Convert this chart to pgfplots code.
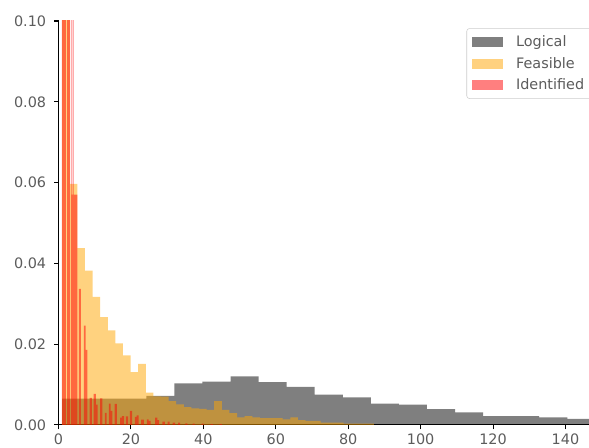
\documentclass[border=0pt]{standalone}
\usepackage{fontspec}
\setmainfont{DejaVu Sans}
\usepackage{pgfplots}
\usepackage{pgfplotstable}
\pgfplotsset{compat=1.18}
\definecolor{txt}{RGB}{92,92,92}
\definecolor{legframe}{RGB}{204,204,204}
\definecolor{mplorange}{RGB}{255,165,0}

\pgfplotstableread{
x y
1 0.0065
8.75 0.0065
16.5 0.0065
24.25 0.0072
32 0.0103
39.75 0.0107
47.5 0.0120
55.25 0.0106
63 0.0094
70.75 0.0075
78.5 0.0068
86.25 0.0053
94 0.0050
101.75 0.0039
109.5 0.0031
117.25 0.0022
125 0.0022
132.75 0.0019
140.5 0.0015
148.25 0
}\logical

\pgfplotstableread{
x y
1 0.105
3.1 0.0597
5.2 0.0438
7.3 0.0382
9.4 0.0317
11.5 0.0267
13.6 0.0234
15.7 0.0202
17.8 0.0172
19.9 0.0131
22.0 0.0151
24.1 0.0080
26.2 0.0071
28.3 0.0070
30.4 0.0059
32.5 0.0051
34.6 0.0044
36.7 0.0041
38.8 0.0040
40.9 0.0037
43.0 0.0059
45.1 0.0037
47.2 0.0029
49.3 0.0019
51.4 0.0022
53.5 0.0019
55.6 0.0017
57.7 0.0017
59.8 0.0017
61.9 0.0014
64.0 0.0019
66.1 0.0012
68.2 0.0010
70.3 0.0010
72.4 0.0006
74.5 0.0006
76.6 0.0006
78.7 0.0003
80.8 0.0003
82.9 0.0003
85.0 0.0003
87.1 0
}\feasible

\pgfplotstableread{
x y
0.9 0.2
2.05 0
2.35 0.2
3.2 0
3.45 0.2
3.65 0.057
3.9 0.2
4.15 0.057
5.2 0
5.65 0.0337
6.2 0
7.0 0.0246
7.5 0.0186
8.0 0
8.6 0.0067
9.2 0
9.7 0.0077
10.3 0.0050
10.8 0
11.5 0.0066
12.1 0
12.8 0.0030
13.3 0
13.9 0.0053
14.4 0.0035
14.9 0
15.5 0.0052
16.1 0
17.0 0.0018
17.5 0.0022
18.1 0
18.6 0.0021
19.2 0
19.7 0.0035
20.3 0
21.1 0.0020
21.6 0.0024
22.1 0
22.8 0.0013
23.6 0
24.4 0.0014
24.9 0.0010
25.4 0
26.7 0.0018
27.3 0.0012
27.8 0
28.7 0.0008
29.4 0
30.1 0.0008
30.7 0
31.5 0.0006
32.2 0
33.0 0.0006
33.6 0
35.0 0.0004
35.6 0
37.0 0.0003
37.6 0
39.5 0.0003
40.1 0
42.0 0.0002
42.6 0
44.5 0.0002
45.1 0
}\identified

\begin{document}
\begin{tikzpicture}
\path[use as bounding box] (-43.9pt,-17.25pt) rectangle (397.9pt,318.75pt);
\begin{axis}[
  at={(0pt,0pt)}, anchor=south west,
  scale only axis,
  width=397.9pt, height=303pt,
  xmin=0, xmax=146.5, ymin=0, ymax=0.1,
  axis x line*=bottom, axis y line*=left,
  axis line style={black, line width=0.8pt},
  tick align=outside,
  major tick length=3.3pt,
  tick style={black, line width=0.8pt},
  xtick={0,20,40,60,80,100,120,140},
  ytick={0,0.02,0.04,0.06,0.08,0.1},
  scaled y ticks=false,
  /pgf/number format/assume math mode=true,
  tick label style={font=\fontsize{10.8}{12}\selectfont, text=txt},
  yticklabel style={/pgf/number format/fixed, /pgf/number format/fixed zerofill, /pgf/number format/precision=2, /tikz/xshift=-2.5pt},
  legend image code/.code={\fill[#1, sharp corners] (0pt,-3.75pt) rectangle (23pt,3.75pt);},
  legend cell align=left,
  legend style={at={(1.014,0.982)}, anchor=north east,
    draw=legframe, rounded corners=2pt, fill=white,
    font=\fontsize{10.8}{12}\selectfont, text=txt,
    inner xsep=4pt, inner ysep=3.5pt, row sep=2.2pt,
    nodes={inner xsep=5pt},
    /tikz/every odd column/.append style={column sep=5pt}},
]
\addplot[const plot, draw=none, fill=black, fill opacity=0.5] table[x=x,y=y] {\logical} \closedcycle;
\addlegendentry{Logical}
\addplot[const plot, draw=none, fill=mplorange, fill opacity=0.5] table[x=x,y=y] {\feasible} \closedcycle;
\addlegendentry{Feasible}
\addplot[const plot, draw=none, fill=red, fill opacity=0.5] table[x=x,y=y] {\identified} \closedcycle;
\addlegendentry{Identified}
\end{axis}
\end{tikzpicture}
\end{document}
